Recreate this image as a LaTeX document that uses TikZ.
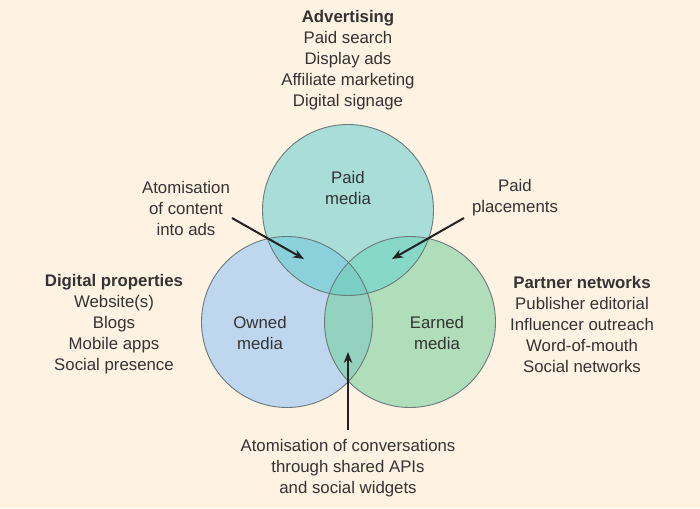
\documentclass[tikz,border=0pt]{standalone}
\usepackage{fontspec}
\setmainfont{Liberation Sans}
\usetikzlibrary{arrows.meta}
\definecolor{bg}{HTML}{FEF2E2}
\definecolor{paidc}{HTML}{A9DDD8}
\definecolor{ownc}{HTML}{BED7EE}
\definecolor{earnc}{HTML}{B0DEBA}
\definecolor{poc}{HTML}{8AD1DC}
\definecolor{pec}{HTML}{88D8C8}
\definecolor{oec}{HTML}{93D2BE}
\definecolor{allc}{HTML}{7ACEC4}
\definecolor{edgec}{HTML}{6A7A7A}
\definecolor{textc}{HTML}{333333}
\definecolor{arrc}{HTML}{222222}
\begin{document}
\begin{tikzpicture}[x=1pt,y=-1pt,
  txt/.style={font=\fontsize{16.8}{21}\selectfont, text=textc, align=center, inner sep=0pt},
  arr/.style={draw=arrc, line width=2pt, -{Stealth[length=11pt,width=8.5pt]}},
  edge/.style={draw=edgec, line width=0.9pt}]
\fill[bg] (0,0) rectangle (700,508);
\useasboundingbox (0,0) rectangle (700,508);
\def\R{85.5pt}
\coordinate (P) at (348,210);
\coordinate (O) at (287,322);
\coordinate (E) at (410,322);
\fill[paidc] (P) circle[radius=\R];
\fill[ownc] (O) circle[radius=\R];
\fill[earnc] (E) circle[radius=\R];
\begin{scope}\clip (P) circle[radius=\R]; \fill[poc] (O) circle[radius=\R]; \end{scope}
\begin{scope}\clip (P) circle[radius=\R]; \fill[pec] (E) circle[radius=\R]; \end{scope}
\begin{scope}\clip (O) circle[radius=\R]; \fill[oec] (E) circle[radius=\R]; \end{scope}
\begin{scope}\clip (P) circle[radius=\R]; \clip (O) circle[radius=\R]; \fill[allc] (E) circle[radius=\R]; \end{scope}
\draw[edge] (P) circle[radius=\R];
\draw[edge] (O) circle[radius=\R];
\draw[edge] (E) circle[radius=\R];

\node[txt] (paid) at (348,188) {Paid\\media};
\node[txt] (owned) at (260,333) {Owned\\media};
\node[txt] (earned) at (437,333) {Earned\\media};

\node[txt] (adv) at (348,60) {\textbf{Advertising}\\Paid search\\Display ads\\Affiliate marketing\\Digital signage};
\node[txt] (dig) at (114,324) {\textbf{Digital properties}\\Website(s)\\Blogs\\Mobile apps\\Social presence};
\node[txt] (part) at (582,324) {\textbf{Partner networks}\\Publisher editorial\\Influencer outreach\\Word-of-mouth\\Social networks};
\node[txt] (atomads) at (186,208) {Atomisation\\of content\\into ads};
\node[txt] (placements) at (515,198) {Paid\\placements};
\node[txt] (atomconv) at (348,468) {Atomisation of conversations\\through shared APIs\\and social widgets};

\coordinate (a1s) at (232,218);
\coordinate (a1e) at (304,259);
\coordinate (a2s) at (464,218);
\coordinate (a2e) at (392,259);
\coordinate (a3s) at (348,430);
\coordinate (a3e) at (348,352);
\draw[arr] (a1s) -- (a1e);
\draw[arr] (a2s) -- (a2e);
\draw[arr] (a3s) -- (a3e);
\end{tikzpicture}
\end{document}
